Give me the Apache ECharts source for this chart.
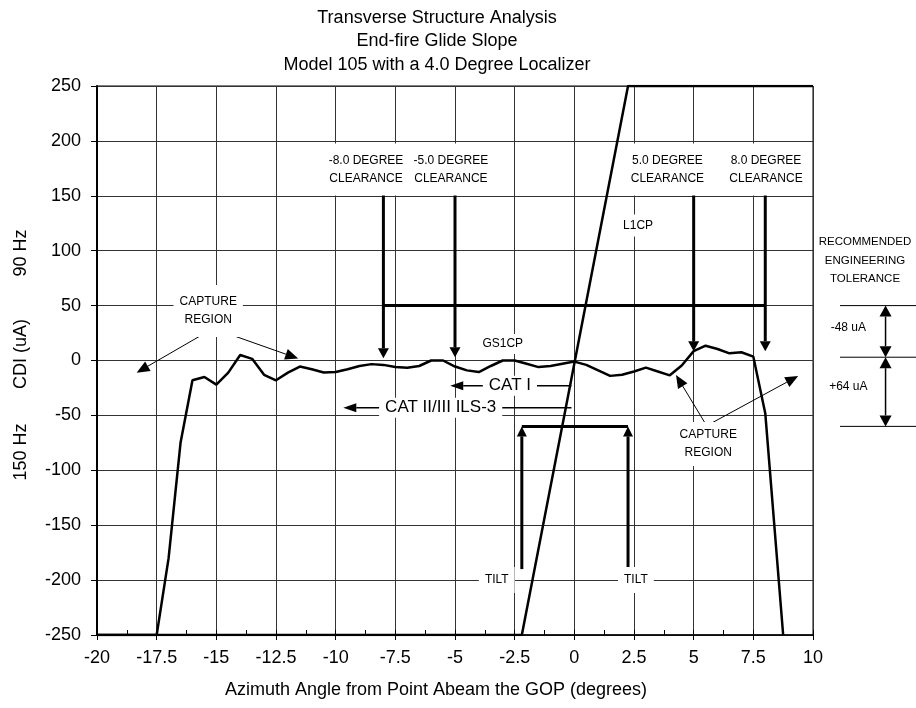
<!DOCTYPE html>
<html>
<head>
<meta charset="utf-8">
<script src="https://cdn.jsdelivr.net/npm/echarts@6/dist/echarts.min.js"></script>
<style>
  html, body { margin: 0; padding: 0; background: #fff; }
  #chart { width: 916px; height: 708px; }
</style>
</head>
<body>
<div id="chart"></div>
<script>
const FONT = "'Liberation Sans', Arial, sans-serif";

// Glide slope course deviation (GS1CP) against azimuth angle
const gsAngle = [-20, -17.5, -17, -16.5, -16, -15.5, -15, -14.5, -14, -13.5, -13, -12.5, -12,
  -11.5, -11, -10.5, -10, -9.5, -9, -8.5, -8, -7.5, -7, -6.5, -6, -5.5, -5, -4.5, -4,
  -3.5, -3, -2.5, -2, -1.5, -1, -0.5, 0, 0.5, 1, 1.5, 2, 2.5, 3, 3.5, 4, 4.5, 5, 5.5,
  6, 6.5, 7, 7.5, 8, 8.75];
const gsCdi = [-250, -250, -180, -75, -18, -15, -22, -11, 5, 1.5, -13, -18, -11,
  -5.5, -8, -11, -10.5, -8, -5, -3.3, -4, -6, -6.5, -5, 0, 0, -5.5, -9, -10.5,
  -5, 0, 0, -3, -6, -5, -3, -1, -4, -9, -14, -13, -10, -6.5, -10, -13.5, -4.5, 8.5, 13.5,
  10.5, 6.5, 7.5, 3.5, -48, -250];

// Localizer course deviation (L1CP) against azimuth angle
const locAngle = [-20, -2.2, 2.25, 10];
const locCdi = [-250, -250, 250, 250];

// Axis ticks
const xTickValues = [-20, -17.5, -15, -12.5, -10, -7.5, -5, -2.5, 0, 2.5, 5, 7.5, 10];
const yTickValues = [-250, -200, -150, -100, -50, 0, 50, 100, 150, 200, 250];

// Reference angles and levels used by the overlay markings
const clearanceAngles = [-8, -5, 5, 8];
const clearanceLabels = ['-8.0 DEGREE\nCLEARANCE', '-5.0 DEGREE\nCLEARANCE', '5.0 DEGREE\nCLEARANCE', '8.0 DEGREE\nCLEARANCE'];
const clearanceLevel = 50;
const tiltAngles = [-2.2, 2.25];
const tiltLevel = -60;
const toleranceLevels = [50, 3, -60];
const toleranceLabels = ['-48 uA', '+64 uA'];

const gsData = gsAngle.map((x, i) => [x, gsCdi[i]]);
const locData = locAngle.map((x, i) => [x, locCdi[i]]);

// Overlay markings (lines, arrows and callout text), placed in data units
const ANN = [];
ANN.push({ kind: 'line', pts: [[clearanceAngles[0], clearanceLevel], [clearanceAngles[3], clearanceLevel]], w: 3 });
const clearanceTips = [2, 3, 8.5, 8.5];
const clearanceTextX = [-8.73, -5.17, 3.9, 8.03];
clearanceAngles.forEach((a, i) => {
  ANN.push({ kind: 'arrow', from: [a, 158], to: [a, clearanceTips[i]], w: 3, head: [10, 5.5] });
  ANN.push({ kind: 'text', at: [clearanceTextX[i], 174], text: clearanceLabels[i], size: 12, lh: 18, pad: [8, 3] });
});
ANN.push({ kind: 'line', pts: [[tiltAngles[0], tiltLevel], [tiltAngles[1], tiltLevel]], w: 3 });
tiltAngles.forEach(a => ANN.push({ kind: 'arrow', from: [a, -190], to: [a, tiltLevel], w: 3, head: [10, 5] }));
ANN.push({ kind: 'text', at: [-3.25, -200], text: 'TILT', size: 12, lh: 14, pad: [6, 6] });
ANN.push({ kind: 'text', at: [2.58, -200], text: 'TILT', size: 12, lh: 14, pad: [6, 6] });

ANN.push({ kind: 'arrow', from: [-0.12, -23], to: [-5.2, -23], w: 1.5, head: [13, 4.5] });
ANN.push({ kind: 'text', at: [-2.7, -23], text: 'CAT I', size: 17, lh: 18, pad: [1, 6] });
ANN.push({ kind: 'arrow', from: [-0.12, -43], to: [-9.68, -43], w: 1.5, head: [13, 4.5] });
ANN.push({ kind: 'text', at: [-5.6, -43], text: 'CAT II/III ILS-3', size: 17, lh: 18, pad: [1, 6] });

ANN.push({ kind: 'arrow', from: [-15.61, 23.2], to: [-18.34, -11.1], w: 1, head: [13, 5.5] });
ANN.push({ kind: 'arrow', from: [-14.36, 23.2], to: [-11.57, 1.8], w: 1, head: [13, 5.5] });
ANN.push({ kind: 'text', at: [-15.34, 45], text: 'CAPTURE\nREGION', size: 12, lh: 18, pad: [8, 6] });
ANN.push({ kind: 'arrow', from: [5.545, -59.4], to: [4.26, -13.2], w: 1, head: [13, 5.5] });
ANN.push({ kind: 'arrow', from: [5.545, -59.4], to: [9.38, -14.1], w: 1, head: [13, 5.5] });
ANN.push({ kind: 'text', at: [5.61, -76], text: 'CAPTURE\nREGION', size: 12, lh: 18, pad: [4, 4] });

ANN.push({ kind: 'text', at: [2.67, 123], text: 'L1CP', size: 12, lh: 14, pad: [4, 3] });
ANN.push({ kind: 'text', at: [-3.0, 15], text: 'GS1CP', size: 12, lh: 14, pad: [3, 3] });

// Engineering tolerance bracket beside the plot
toleranceLevels.forEach(v => ANN.push({ kind: 'line', pts: [[11.13, v], [14.4, v]], w: 1 }));
ANN.push({ kind: 'dbl', from: [13.04, toleranceLevels[0]], to: [13.04, toleranceLevels[1]], w: 1.5, head: [11, 6] });
ANN.push({ kind: 'dbl', from: [13.04, toleranceLevels[1]], to: [13.04, toleranceLevels[2]], w: 1.5, head: [11, 6] });
ANN.push({ kind: 'text', at: [11.48, 29.6], text: toleranceLabels[0], size: 12, lh: 14, bg: false });
ANN.push({ kind: 'text', at: [11.48, -23.6], text: toleranceLabels[1], size: 12, lh: 14, bg: false });
ANN.push({ kind: 'text', at: [12.18, 91], text: 'RECOMMENDED\nENGINEERING\nTOLERANCE', size: 11.5, lh: 18.5, bg: false });

function head(p0, p1, len, hw) {
  const dx = p1[0] - p0[0], dy = p1[1] - p0[1];
  const d = Math.hypot(dx, dy) || 1;
  const ux = dx / d, uy = dy / d;
  const bx = p1[0] - ux * len, by = p1[1] - uy * len;
  return {
    base: [bx, by],
    tri: [[p1[0], p1[1]], [bx - uy * hw, by + ux * hw], [bx + uy * hw, by - ux * hw]]
  };
}

function renderAnnotation(params, api) {
  const a = ANN[params.dataIndex];
  if (a.kind === 'line') {
    return {
      type: 'polyline',
      shape: { points: a.pts.map(p => api.coord(p)) },
      style: { stroke: '#000', lineWidth: a.w, fill: null }
    };
  }
  if (a.kind === 'arrow' || a.kind === 'dbl') {
    const p0 = api.coord(a.from), p1 = api.coord(a.to);
    const h1 = head(p0, p1, a.head[0], a.head[1]);
    const children = [];
    let start = p0;
    if (a.kind === 'dbl') {
      const h0 = head(p1, p0, a.head[0], a.head[1]);
      start = h0.base;
      children.push({ type: 'polygon', shape: { points: h0.tri }, style: { fill: '#000' } });
    }
    children.push({
      type: 'line',
      shape: { x1: start[0], y1: start[1], x2: h1.base[0], y2: h1.base[1] },
      style: { stroke: '#000', lineWidth: a.w }
    });
    children.push({ type: 'polygon', shape: { points: h1.tri }, style: { fill: '#000' } });
    return { type: 'group', children };
  }
  const p = api.coord(a.at);
  return {
    type: 'text',
    x: p[0], y: p[1], z2: 10,
    style: {
      text: a.text,
      fontSize: a.size,
      fontFamily: FONT,
      lineHeight: a.lh,
      fill: '#000',
      align: 'center',
      verticalAlign: 'middle',
      backgroundColor: a.bg === false ? null : '#fff',
      padding: a.pad || 0
    }
  };
}

const chart = echarts.init(document.getElementById('chart'), null, { renderer: 'canvas' });

const titleLines = ['Transverse Structure Analysis', 'End-fire Glide Slope', 'Model 105 with a 4.0 Degree Localizer'];
const textStyle = (text, size) => ({ text, fontSize: size, fontFamily: FONT, fill: '#000', align: 'center', verticalAlign: 'middle' });

chart.setOption({
  animation: false,
  backgroundColor: '#fff',
  grid: { left: 97, right: 103, top: 86, bottom: 73, show: true, borderColor: '#000', borderWidth: 1 },
  graphic: [
    ...titleLines.map((t, i) => ({ type: 'text', x: 437, y: 18 + i * 23.5, style: textStyle(t, 18) })),
    { type: 'text', x: 436, y: 690, style: textStyle('Azimuth Angle from Point Abeam the GOP (degrees)', 18) },
    { type: 'text', x: 21, y: 253, rotation: Math.PI / 2, style: textStyle('90 Hz', 18) },
    { type: 'text', x: 21, y: 354, rotation: Math.PI / 2, style: textStyle('CDI (uA)', 18) },
    { type: 'text', x: 21, y: 452, rotation: Math.PI / 2, style: textStyle('150 Hz', 18) }
  ],
  xAxis: [
    {
      type: 'value',
      min: xTickValues[0],
      max: xTickValues[xTickValues.length - 1],
      interval: xTickValues[1] - xTickValues[0],
      axisLine: { show: true, onZero: false, lineStyle: { color: '#000', width: 1.5 } },
      axisTick: { show: true, length: 5, lineStyle: { color: '#000' } },
      axisLabel: { fontSize: 18, fontFamily: FONT, color: '#000', margin: 14 },
      splitLine: { show: true, lineStyle: { color: '#333', width: 1 } }
    },
    {
      type: 'value',
      position: 'bottom',
      min: xTickValues[0],
      max: xTickValues[xTickValues.length - 1],
      interval: (xTickValues[1] - xTickValues[0]) / 2,
      axisLine: { show: false, onZero: false },
      axisTick: { show: true, inside: true, length: 5, lineStyle: { color: '#000' } },
      axisLabel: { show: false },
      splitLine: { show: false }
    }
  ],
  yAxis: {
    type: 'value',
    min: yTickValues[0],
    max: yTickValues[yTickValues.length - 1],
    interval: yTickValues[1] - yTickValues[0],
    axisLine: { show: true, onZero: false, lineStyle: { color: '#000', width: 2 } },
    axisTick: { show: true, length: 6, lineStyle: { color: '#000' } },
    axisLabel: { fontSize: 18, fontFamily: FONT, color: '#000', margin: 16 },
    splitLine: { show: true, lineStyle: { color: '#333', width: 1 } }
  },
  series: [
    {
      name: 'L1CP', type: 'line', data: locData, xAxisIndex: 0,
      showSymbol: false, symbol: 'none', z: 3,
      lineStyle: { color: '#000', width: 2.5 }
    },
    {
      name: 'GS1CP', type: 'line', data: gsData, xAxisIndex: 0,
      showSymbol: false, symbol: 'none', z: 3,
      lineStyle: { color: '#000', width: 2.5 }
    },
    {
      name: 'markings', type: 'custom', xAxisIndex: 0, z: 5, silent: true, clip: false,
      data: ANN.map(() => [0, 0]),
      renderItem: renderAnnotation
    }
  ]
});
</script>
</body>
</html>
